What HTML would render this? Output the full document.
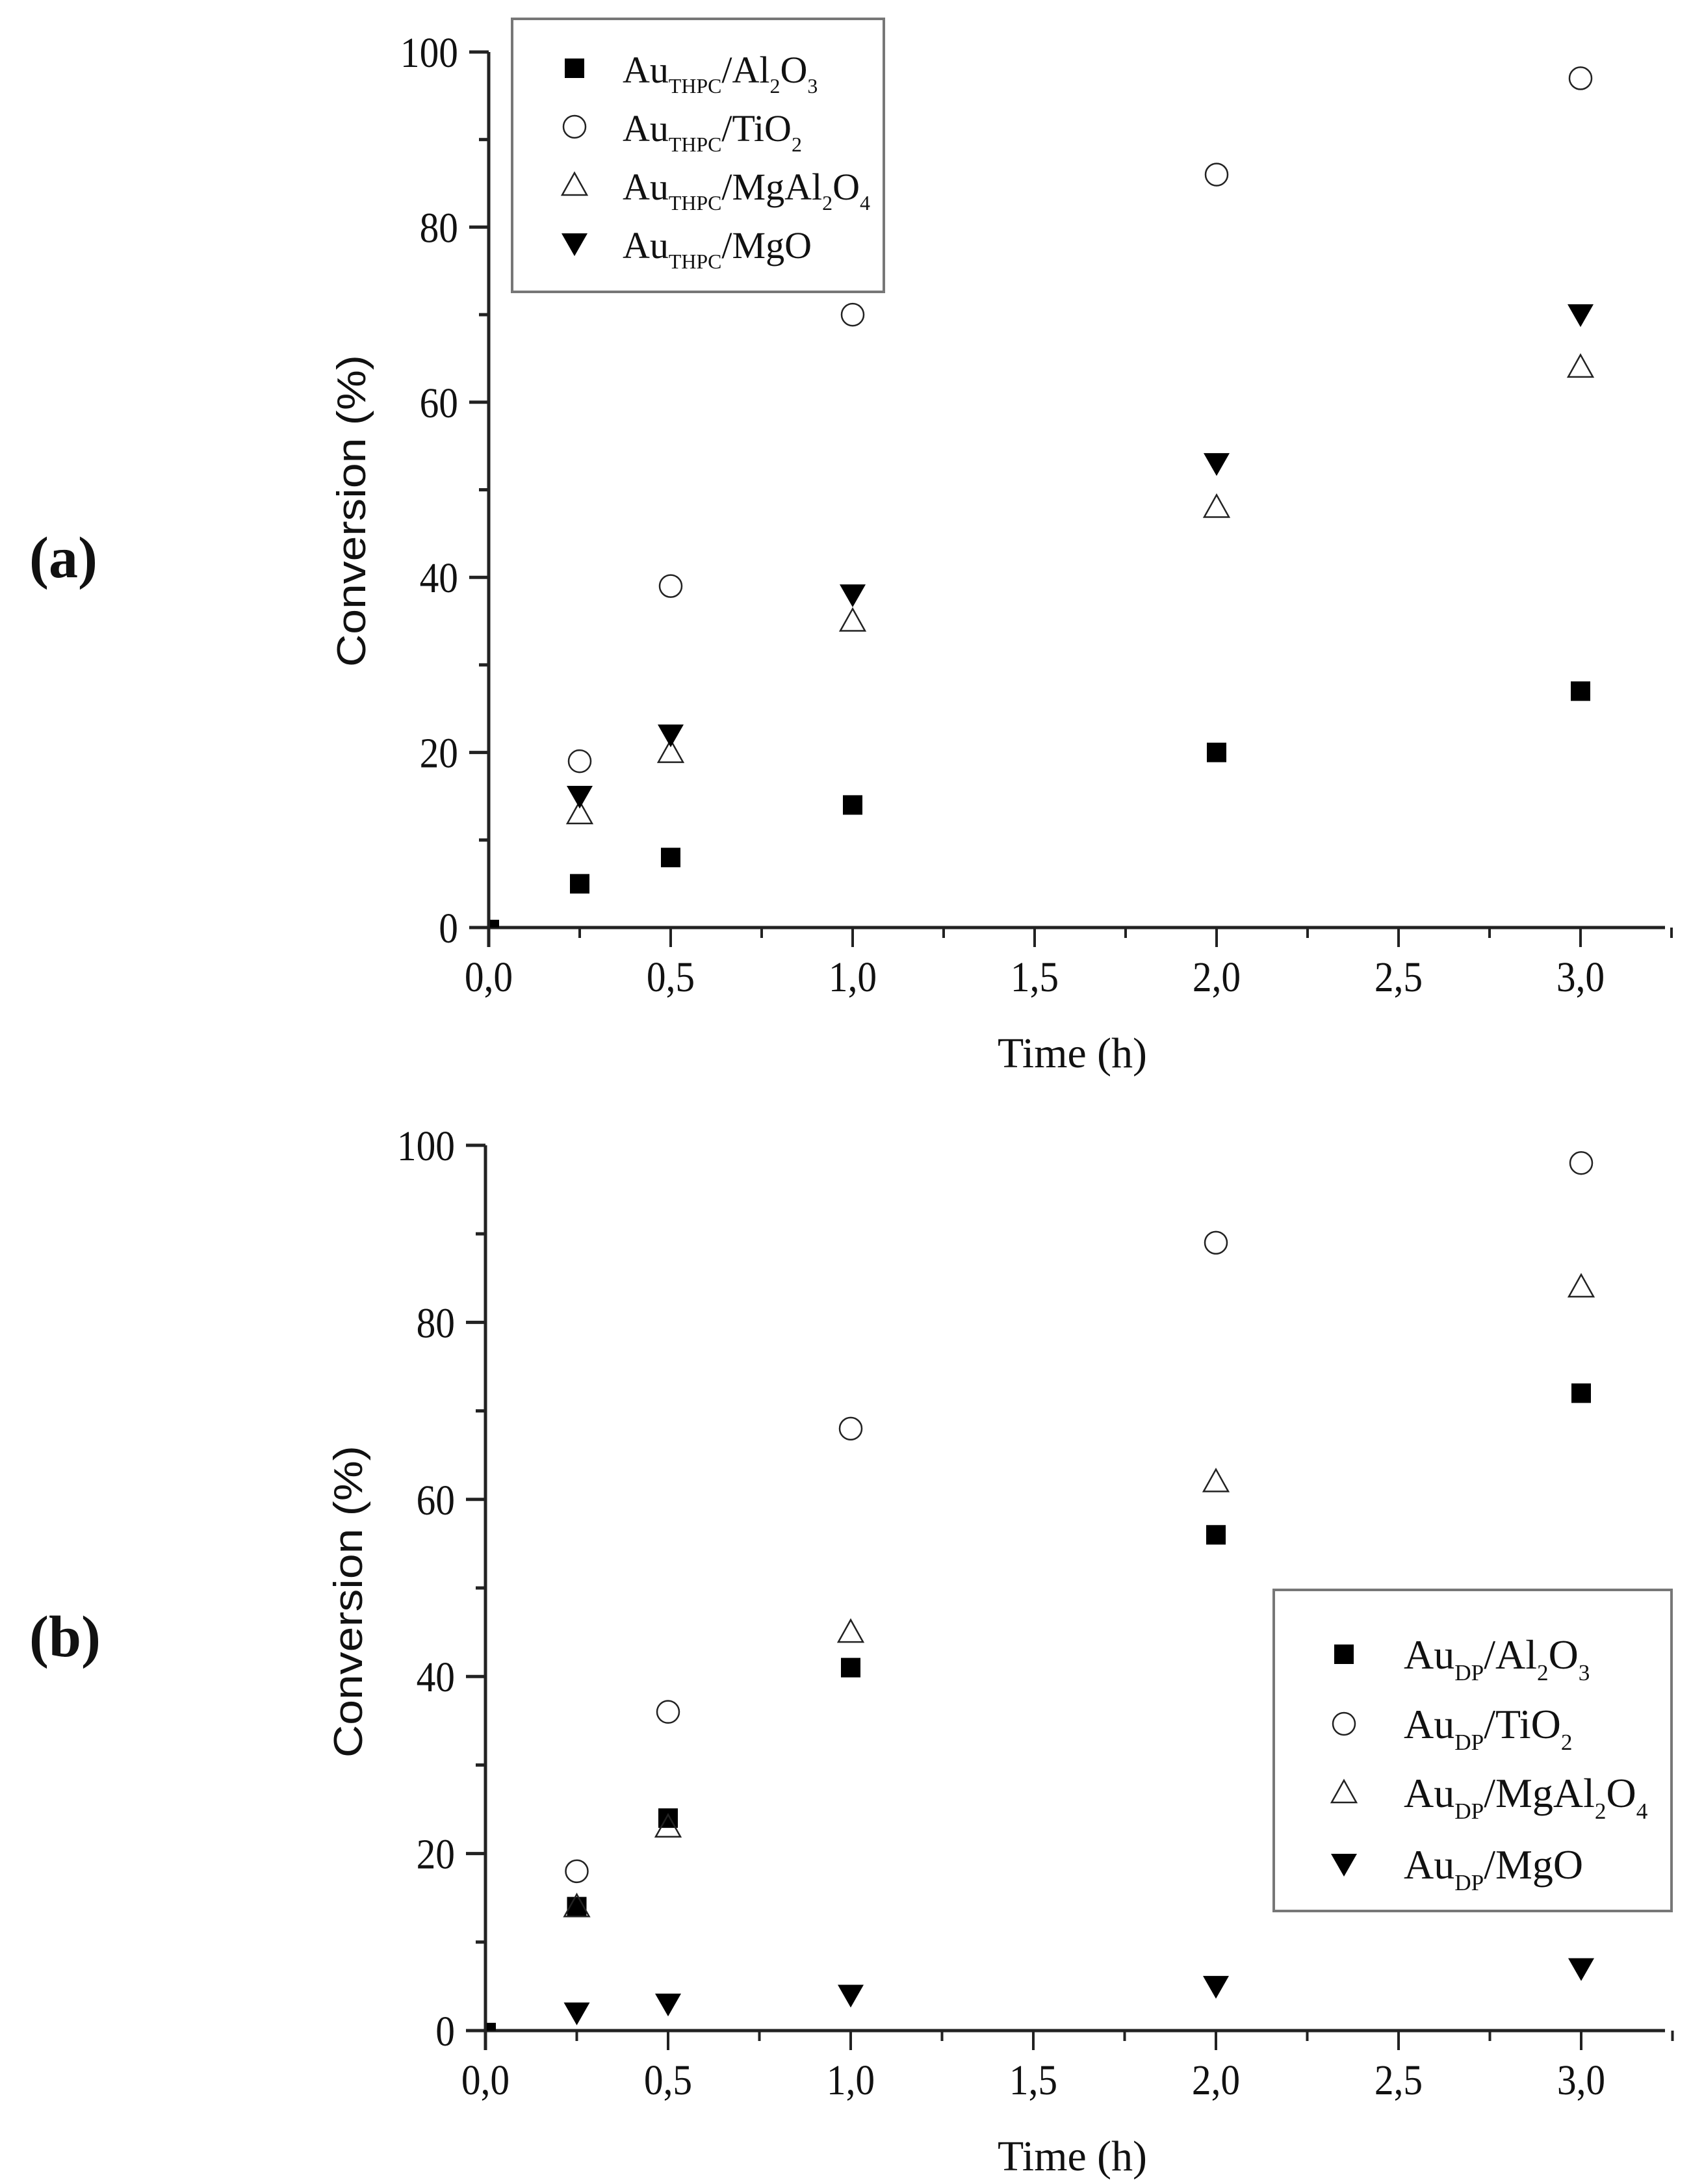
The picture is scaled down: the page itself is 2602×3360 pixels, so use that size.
<!DOCTYPE html>
<html><head><meta charset="utf-8"><style>
html,body{margin:0;padding:0;background:#fff;}
svg{display:block;}
text{font-family:"Liberation Serif",serif;fill:#111;}
</style></head><body>
<svg id="fig" width="2602" height="3360" viewBox="0 0 2602 3360" xmlns="http://www.w3.org/2000/svg">
<rect width="2602" height="3360" fill="#fff"/>
</svg>
<script>
// ---- data ----
const times = [0.25, 0.5, 1, 2, 3];
const seriesNames = ["Al2O3", "TiO2", "MgAl2O4", "MgO"];
const aAl2O3 = [5, 8, 14, 20, 27];
const aTiO2 = [19, 39, 70, 86, 97];
const aMgAl2O4 = [13, 20, 35, 48, 64];
const aMgO = [15, 22, 38, 53, 70];
const bAl2O3 = [14, 24, 41, 56, 72];
const bTiO2 = [18, 36, 68, 89, 98];
const bMgAl2O4 = [14, 23, 45, 62, 84];
const bMgO = [2, 3, 4, 5, 7];
const xTickLabels = ["0,0", "0,5", "1,0", "1,5", "2,0", "2,5", "3,0"];
const xTickValues = [0, 0.5, 1, 1.5, 2, 2.5, 3];
const yTickValues = [0, 20, 40, 60, 80, 100];
const yTickLabels = ["0", "20", "40", "60", "80", "100"];

const NS = "http://www.w3.org/2000/svg";
const svg = document.getElementById("fig");
function mk(tag, attrs, parent) {
  const e = document.createElementNS(NS, tag);
  for (const k in attrs) e.setAttribute(k, attrs[k]);
  (parent || svg).appendChild(e);
  return e;
}
const markerKinds = ["square", "circle", "triangle", "tridown"];

function drawMarker(g, kind, cx, cy) {
  let m;
  if (kind === "square") {
    m = mk("rect", {x: cx - 15, y: cy - 15, width: 30, height: 30, fill: "#000"}, g);
  } else if (kind === "circle") {
    m = mk("circle", {cx: cx, cy: cy, r: 17, fill: "none", stroke: "#222", "stroke-width": 2.5}, g);
  } else if (kind === "triangle") {
    m = mk("polygon", {points: `${cx},${cy - 19} ${cx - 19},${cy + 15} ${cx + 19},${cy + 15}`, fill: "none", stroke: "#222", "stroke-width": 2.5}, g);
  } else {
    m = mk("polygon", {points: `${cx - 20},${cy - 16} ${cx + 20},${cy - 16} ${cx},${cy + 19}`, fill: "#000"}, g);
  }
  return m;
}

function drawPanel(cfg) {
  const g = mk("g", {});
  
  
  const xs = v => cfg.x0 + v * cfg.pxPerH;
  const ys = v => cfg.y0 - v * (cfg.y0 - cfg.y100) / 100;
  const xEnd = 2562;
  const xa = mk("line", {x1: cfg.x0 - 30, y1: cfg.y0, x2: xEnd, y2: cfg.y0, stroke: "#222", "stroke-width": 5}, g);
  
  
  const ya = mk("line", {x1: cfg.x0, y1: cfg.y0 + 30, x2: cfg.x0, y2: ys(100), stroke: "#222", "stroke-width": 5}, g);
  
  
  for (let v = 0.25; v <= 3.25; v += 0.25) {
    const major = Math.abs(v * 2 - Math.round(v * 2)) < 1e-6;
    mk("line", {x1: xs(v), y1: cfg.y0, x2: xs(v), y2: cfg.y0 + (major ? 30 : 16), stroke: "#222", "stroke-width": 4}, g);
  }
  xTickValues.forEach((v, i) => {
    const t = mk("text", {x: 0, y: 0, "font-size": 66, "text-anchor": "middle", transform: `translate(${xs(v)},${cfg.y0 + 98}) scale(0.9,1)`}, g);
    t.textContent = xTickLabels[i];
    
    
  });
  for (let v = 10; v <= 100; v += 10) {
    const major = v % 20 === 0;
    mk("line", {x1: cfg.x0 - (major ? 30 : 15), y1: ys(v), x2: cfg.x0, y2: ys(v), stroke: "#222", "stroke-width": 5}, g);
  }
  yTickValues.forEach((v, i) => {
    const t = mk("text", {x: 0, y: 0, "font-size": 66, "text-anchor": "end", transform: `translate(${cfg.x0 - 47},${ys(v) + 23}) scale(0.9,1)`}, g);
    t.textContent = yTickLabels[i];
    
    
  });
  const yt = mk("text", {x: 0, y: 0, "font-size": 62, "text-anchor": "middle", transform: `translate(${cfg.x0 - 190},${cfg.yTitleY}) rotate(-90)`, style: "font-family:'Liberation Sans',sans-serif", textLength: 480, lengthAdjust: "spacingAndGlyphs"}, g);
  yt.textContent = "Conversion (%)";
  
  
  const xt = mk("text", {x: 1650, y: cfg.y0 + 215, "font-size": 66, "text-anchor": "middle", textLength: 230, lengthAdjust: "spacingAndGlyphs"}, g);
  xt.textContent = "Time (h)";
  
  
  const pl = mk("text", {x: 45, y: cfg.labelY, "font-size": 90, "font-weight": "bold"}, g);
  pl.textContent = cfg.label;
  
  
  const od = mk("rect", {x: cfg.x0 + 2, y: cfg.y0 - 12, width: 14, height: 12, fill: "#000"}, g);
  
  
  cfg.series.forEach((vals, si) => {
    const sg = mk("g", {}, g);
    
    
    vals.forEach((v, i) => {
      const m = drawMarker(sg, markerKinds[si], xs(times[i]), ys(v));
      
      
    });
  });
  const L = cfg.legend;
  const lg = mk("g", {}, g);
  
  
  mk("rect", {x: L.x, y: L.y, width: L.w, height: L.h, fill: "#fff", stroke: "#777", "stroke-width": 4}, lg);
  const subs = [["Al", "2", "O", "3"], ["TiO", "2"], ["MgAl", "2", "O", "4"], ["MgO"]];
  subs.forEach((parts, i) => {
    const ry = L.rowY[i];
    drawMarker(lg, markerKinds[i], L.mx, ry - 2);
    const t = mk("text", {x: L.tx, y: ry + 20, "font-size": L.fs}, lg);
    
    
    let s1 = mk("tspan", {}, t); s1.textContent = "Au";
    let s2 = mk("tspan", {dy: L.fs * 0.28, "font-size": L.fs * 0.55}, t); s2.textContent = cfg.sub;
    let s3 = mk("tspan", {dy: -L.fs * 0.28}, t); s3.textContent = "/" + parts[0];
    for (let k = 1; k < parts.length; k += 2) {
      let a = mk("tspan", {dy: L.fs * 0.28, "font-size": L.fs * 0.55}, t); a.textContent = parts[k];
      if (parts[k + 1]) { let b = mk("tspan", {dy: -L.fs * 0.28}, t); b.textContent = parts[k + 1]; }
    }
  });
}

drawPanel({
  name: "panel-a-thpc", label: "(a)", labelY: 888, sub: "THPC",
  x0: 752, pxPerH: 560, y0: 1427, y100: 80, yTitleY: 786,
  series: [aAl2O3, aTiO2, aMgAl2O4, aMgO],
  legend: {x: 788, y: 29, w: 572, h: 420, mx: 884, tx: 958, fs: 58, rowY: [107, 197, 287, 377]}
});
drawPanel({
  name: "panel-b-dp", label: "(b)", labelY: 2548, sub: "DP",
  x0: 747, pxPerH: 562, y0: 3124, y100: 1762, yTitleY: 2464,
  series: [bAl2O3, bTiO2, bMgAl2O4, bMgO],
  legend: {x: 1960, y: 2446, w: 612, h: 494, mx: 2068, tx: 2160, fs: 64, rowY: [2547, 2654, 2760, 2870]}
});
</script>
</body></html>
